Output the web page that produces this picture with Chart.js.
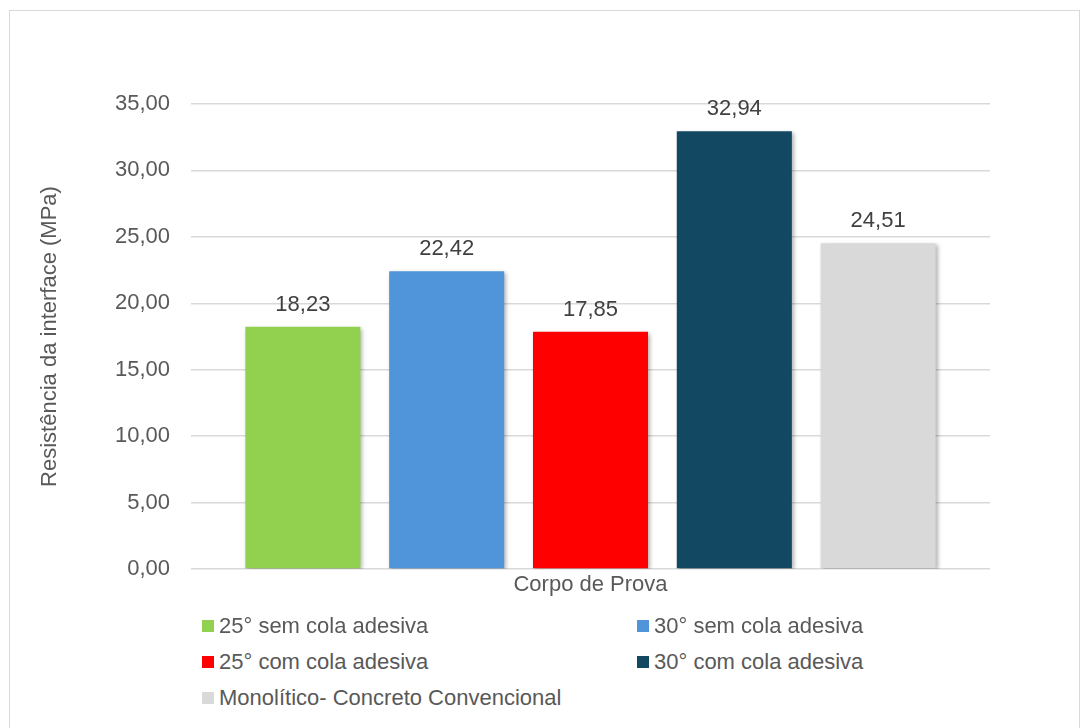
<!DOCTYPE html>
<html>
<head>
<meta charset="utf-8">
<script src="https://cdn.jsdelivr.net/npm/chart.js@4.4.0/dist/chart.umd.min.js"></script>
<style>
  body { margin: 0; background: #fff; font-family: "Liberation Sans", Arial, sans-serif; }
  #frame { position: absolute; left: 9px; top: 10px; width: 1071px; height: 730px; border: 1px solid #d9d9d9; box-sizing: border-box; }
  #wrap { position: absolute; left: 0; top: 0; width: 1085px; height: 615px; }
  .leg { position: absolute; font-size: 22px; color: #595959; line-height: 26px; white-space: nowrap; }
  .leg span { display: inline-block; width: 12px; height: 12px; margin-right: 5px; vertical-align: 1px; }
</style>
</head>
<body>
<div id="frame"></div>
<div id="wrap"><canvas id="chart"></canvas></div>
<div id="legend"></div>
<script>
// dados do grafico
var categorias = ['Corpo de Prova']
var series = ['25° sem cola adesiva', '30° sem cola adesiva', '25° com cola adesiva', '30° com cola adesiva', 'Monolítico- Concreto Convencional']
var valores = [18.23, 22.42, 17.85, 32.94, 24.51]
var cores = ['#92D050', '#5095D9', '#FF0000', '#124862', '#D9D9D9']
var yTicks = [0, 5, 10, 15, 20, 25, 30, 35]

function fmt(v){
    return Number(v).toFixed(2).replace('.', ',')
}

var datasets = []
for(var i=0;i<series.length;i++){
    datasets.push({
        label: series[i],
        data: [valores[i]],
        backgroundColor: cores[i],
        categoryPercentage: 0.9,
        barPercentage: 0.8
    })
}

var fonte = { family: '"Liberation Sans", Arial, sans-serif', size: 22 }

// sombra leve nas barras
var sombra = {
    id: 'sombra',
    beforeDatasetDraw: function(chart){
        var ctx = chart.ctx
        ctx.save()
        ctx.shadowColor = 'rgba(0,0,0,0.3)'
        ctx.shadowBlur = 4
        ctx.shadowOffsetX = 2
        ctx.shadowOffsetY = 2
    },
    afterDatasetDraw: function(chart){
        chart.ctx.restore()
    }
}

// rotulos em cima das barras
var rotulos = {
    id: 'rotulos',
    afterDatasetsDraw: function(chart){
        var ctx = chart.ctx
        ctx.save()
        ctx.font = '22px "Liberation Sans", Arial, sans-serif'
        ctx.fillStyle = '#404040'
        ctx.textAlign = 'center'
        ctx.textBaseline = 'middle'
        chart.data.datasets.forEach(function(ds, i){
            var meta = chart.getDatasetMeta(i)
            meta.data.forEach(function(bar, j){
                ctx.fillText(fmt(ds.data[j]), bar.x, bar.y - 22)
            })
        })
        ctx.restore()
    }
}

var ctx = document.getElementById('chart').getContext('2d')
var myChart = new Chart(ctx, {
    type: 'bar',
    data: {
        labels: categorias,
        datasets: datasets
    },
    options: {
        responsive: true,
        maintainAspectRatio: false,
        animation: false,
        layout: { padding: { left: 0, right: 95, top: 104, bottom: 0 } },
        plugins: {
            legend: { display: false },
            tooltip: { enabled: false }
        },
        scales: {
            x: {
                grid: { display: false, drawTicks: false },
                border: { display: false },
                ticks: { color: '#595959', font: fonte, padding: 3 },
                afterFit: function(s){ s.height = 46 }
            },
            y: {
                min: 0,
                max: 35,
                afterBuildTicks: function(s){ s.ticks = yTicks.map(function(v){ return { value: v } }) },
                grid: { color: '#d9d9d9', lineWidth: 1.5, drawTicks: false },
                border: { display: false },
                ticks: { color: '#595959', font: fonte, padding: 21, callback: function(v){ return fmt(v) } },
                title: {
                    display: true,
                    text: 'Resistência da interface (MPa)',
                    color: '#595959',
                    font: fonte,
                    padding: { top: 37, bottom: 0 }
                },
                afterFit: function(s){ s.width = 191 }
            }
        }
    },
    plugins: [sombra, rotulos]
})

// legenda em html, duas colunas
var legendDiv = document.getElementById('legend')
var posLeg = [[202, 626], [637, 626], [202, 662], [637, 662], [202, 698]]
for(var k=0;k<series.length;k++){
    var d = document.createElement('div')
    d.className = 'leg'
    d.style.left = posLeg[k][0] + 'px'
    d.style.top = (posLeg[k][1] - 13) + 'px'
    d.innerHTML = '<span style="background:' + cores[k] + '"></span>' + series[k]
    legendDiv.appendChild(d)
}
</script>
</body>
</html>
